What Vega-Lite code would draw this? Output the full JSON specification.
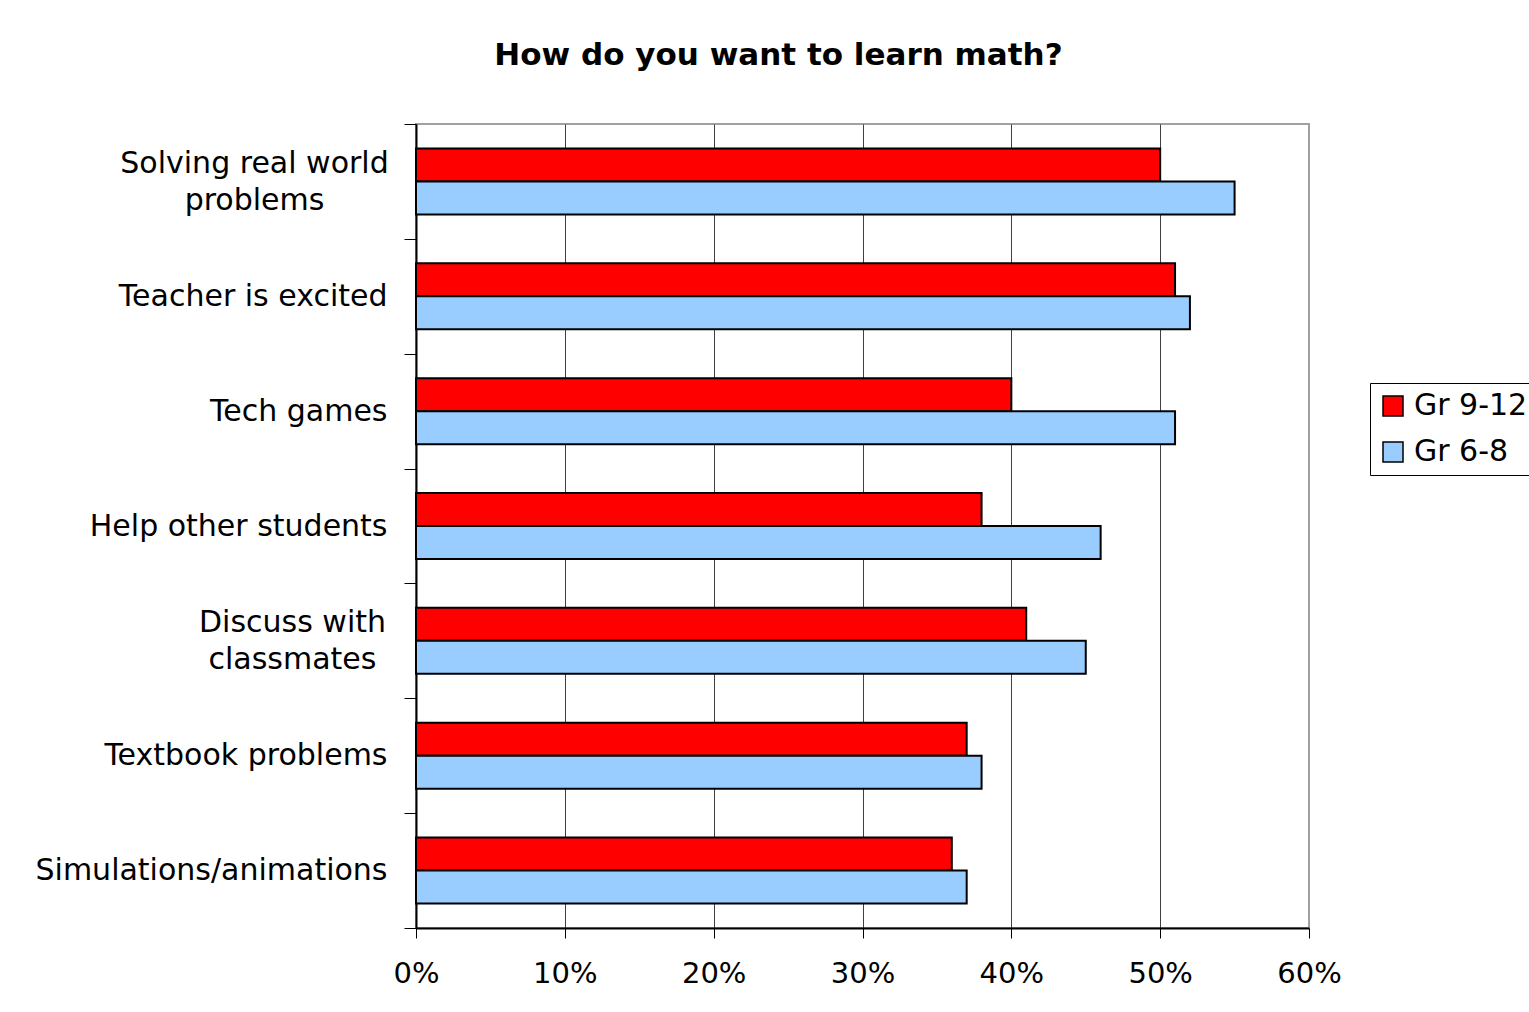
{
  "$schema": "https://vega.github.io/schema/vega-lite/v6.json",
  "width": 893,
  "height": 804,
  "autosize": {"type": "none"},
  "padding": {"left": 416, "top": 124, "right": 220, "bottom": 84},
  "background": "white",
  "title": {
    "text": "How do you want to learn math?",
    "font": "DejaVu Sans",
    "fontSize": 31,
    "fontWeight": "bold",
    "color": "black",
    "anchor": "middle",
    "dx": -84,
    "offset": 37
  },
  "data": {
    "values": [
      {"category": "Solving real world problems", "group": "Gr 9-12", "value": 50},
      {"category": "Solving real world problems", "group": "Gr 6-8", "value": 55},
      {"category": "Teacher is excited", "group": "Gr 9-12", "value": 51},
      {"category": "Teacher is excited", "group": "Gr 6-8", "value": 52},
      {"category": "Tech games", "group": "Gr 9-12", "value": 40},
      {"category": "Tech games", "group": "Gr 6-8", "value": 51},
      {"category": "Help other students", "group": "Gr 9-12", "value": 38},
      {"category": "Help other students", "group": "Gr 6-8", "value": 46},
      {"category": "Discuss with classmates", "group": "Gr 9-12", "value": 41},
      {"category": "Discuss with classmates", "group": "Gr 6-8", "value": 45},
      {"category": "Textbook problems", "group": "Gr 9-12", "value": 37},
      {"category": "Textbook problems", "group": "Gr 6-8", "value": 38},
      {"category": "Simulations/animations", "group": "Gr 9-12", "value": 36},
      {"category": "Simulations/animations", "group": "Gr 6-8", "value": 37}
    ]
  },
  "mark": {"type": "bar", "stroke": "black", "strokeWidth": 2},
  "encoding": {
    "y": {
      "field": "category",
      "type": "nominal",
      "sort": ["Solving real world problems", "Teacher is excited", "Tech games", "Help other students", "Discuss with classmates", "Textbook problems", "Simulations/animations"],
      "scale": {"paddingInner": 0, "paddingOuter": 0},
      "axis": {
        "title": null,
        "grid": false,
        "domainColor": "black",
        "domainWidth": 2,
        "ticks": true,
        "tickBand": "extent",
        "tickSize": 12,
        "tickColor": "black",
        "tickWidth": 1,
        "labelFont": "DejaVu Sans",
        "labelFontSize": 30,
        "labelColor": "black",
        "labelLineHeight": 37,
        "labelLimit": 0,
        "labelAlign": {"condition": {"test": "datum.value == 'Solving real world problems' || datum.value == 'Discuss with classmates'", "value": "center"}, "value": "right"},
        "labelPadding": {"condition": [
          {"test": "datum.value == 'Solving real world problems'", "value": 150},
          {"test": "datum.value == 'Discuss with classmates'", "value": 112}
        ], "value": 17},
        "labelOffset": {"condition": {"test": "datum.value == 'Solving real world problems' || datum.value == 'Discuss with classmates'", "value": -18}, "value": 0},
        "labelExpr": "datum.value == 'Solving real world problems' ? ['Solving real world', 'problems'] : datum.value == 'Discuss with classmates' ? ['Discuss with', 'classmates'] : datum.value"
      }
    },
    "yOffset": {
      "field": "group",
      "type": "nominal",
      "sort": ["Gr 9-12", "Gr 6-8"],
      "scale": {"paddingInner": 0, "paddingOuter": 0.74}
    },
    "x": {
      "field": "value",
      "type": "quantitative",
      "scale": {"domain": [0, 60], "nice": false},
      "axis": {
        "title": null,
        "values": [0, 10, 20, 30, 40, 50, 60],
        "labelExpr": "datum.value + '%'",
        "domainColor": "black",
        "domainWidth": 2,
        "tickSize": 10,
        "tickColor": "black",
        "tickWidth": 1,
        "labelFont": "DejaVu Sans",
        "labelFontSize": 29,
        "labelColor": "black",
        "labelPadding": 21,
        "labelFlush": false,
        "grid": true,
        "gridColor": {"condition": {"test": "datum.value == 60", "value": "#a0a0a0"}, "value": "#404040"},
        "gridWidth": 1
      }
    },
    "color": {
      "field": "group",
      "type": "nominal",
      "scale": {"domain": ["Gr 9-12", "Gr 6-8"], "range": ["#FF0000", "#99CCFF"]},
      "legend": {
        "orient": "none",
        "legendX": 954,
        "legendY": 259,
        "title": null,
        "symbolType": "square",
        "symbolSize": 400,
        "symbolStrokeColor": "black",
        "symbolStrokeWidth": 1.5,
        "labelFont": "DejaVu Sans",
        "labelFontSize": 30,
        "labelColor": "black",
        "labelOffset": 6,
        "labelLimit": 0,
        "strokeColor": "black",
        "fillColor": "white",
        "padding": 8,
        "rowPadding": 16
      }
    }
  },
  "config": {
    "view": {"stroke": "#a0a0a0", "strokeWidth": 2}
  }
}
